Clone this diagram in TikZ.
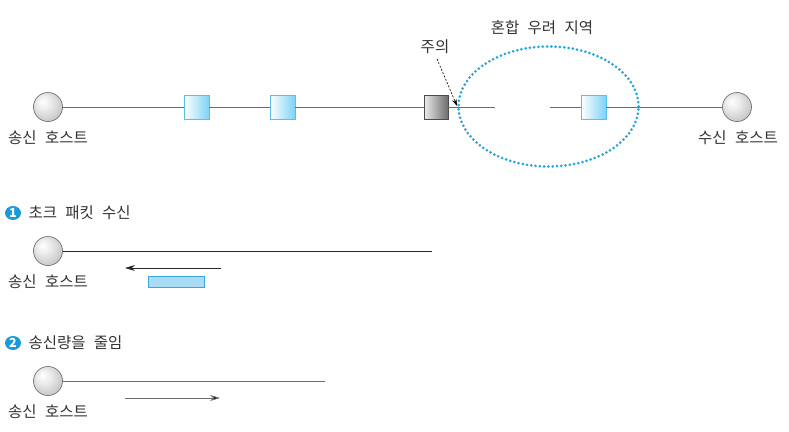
\documentclass[tikz,border=0pt]{standalone}
\usepackage{fontspec}
\setmainfont{Noto Sans CJK KR}[WordSpace=2.4]
\usetikzlibrary{arrows.meta,shapes.geometric}
\definecolor{txt}{HTML}{333333}
\definecolor{pktblue}{HTML}{7DD3F5}
\definecolor{pktborder}{HTML}{5BC0E8}
\definecolor{dotblue}{HTML}{2AA6DC}
\definecolor{bulletblue}{HTML}{1A9AD6}
\definecolor{chokefill}{HTML}{A8DBF5}
\definecolor{chokeborder}{HTML}{3AA7DE}
\pgfdeclareradialshading{myball}{\pgfpoint{-10bp}{10bp}}{color(0bp)=(white); color(12bp)=(gray!15); color(30bp)=(gray!45); color(50bp)=(gray!60)}
\begin{document}
\begin{tikzpicture}[x=1pt,y=-1pt,
  every node/.style={font=\fontsize{15.5}{18}\selectfont, text=txt},
  host/.style={circle, minimum size=29pt, inner sep=0pt, draw=gray!80!black, line width=0.6pt, shade, shading=myball},
  pkt/.style={rectangle, minimum width=25pt, minimum height=24pt, inner sep=0pt, draw=pktborder, line width=0.8pt, left color=white, right color=pktblue},
  darkpkt/.style={rectangle, minimum width=24pt, minimum height=24pt, inner sep=0pt, draw=gray!60!black, line width=0.6pt, left color=gray!15, right color=gray!85!black},
  wire/.style={draw=gray!85!black, line width=0.8pt},
  bwire/.style={draw=black!85, line width=0.9pt},
  bullet/.style={ellipse, fill=bulletblue, minimum width=16pt, minimum height=14pt, inner sep=0pt, text=white, font=\fontsize{12.5}{12}\selectfont\bfseries},
  title/.style={anchor=west},
  tiparrow/.style={-{Stealth[length=10pt,width=6pt]}},
]
\useasboundingbox (0,0) rectangle (789,431);

% ---------- top row ----------
\node[host] (s0) at (48,107) {};
\node[anchor=center] (s0l) at (48,138) {송신 호스트};
\node[pkt] (p1) at (196.5,107) {};
\node[pkt] (p2) at (282.5,107) {};
\node[darkpkt] (pd) at (436,107) {};
\coordinate (gapL) at (495,107);
\coordinate (gapR) at (550,107);
\node[pkt] (p3) at (593.5,107) {};
\node[host] (r0) at (737,107) {};
\node (r0l) at (738,138) {수신 호스트};

\draw[wire] (s0) -- (p1);
\draw[wire] (p1) -- (p2);
\draw[wire] (p2) -- (pd);
\draw[wire] (pd) -- (gapL);
\draw[wire] (gapR) -- (p3);
\draw[wire] (p3) -- (r0);

\node[ellipse, draw=dotblue, line width=3pt, line cap=round, dash pattern=on 0pt off 4.3pt, minimum width=180pt, minimum height=120pt, inner sep=0pt] (zone) at (548.5,106.5) {};
\node (zonel) at (542,28) {혼합 우려 지역};

\node (warn) at (435,47) {주의};
\coordinate (tip) at (457,106);
\draw[black, line width=0.6pt, dash pattern=on 2pt off 1.6pt, -{Stealth[length=7pt,width=4.5pt]}] (437,59) -- (tip);

% ---------- step 1 ----------
\node[bullet] (b1) at (13,213) {1};
\node[title] (t1) at (25,213) {초크 패킷 수신};
\node[host] (s1) at (48,251) {};
\node (s1l) at (48,282) {송신 호스트};
\coordinate (e1) at (432,251);
\draw[bwire] (s1) -- (e1);
\coordinate (a1s) at (221,268);
\coordinate (a1e) at (125,268);
\draw[bwire, line width=0.8pt, tiparrow] (a1s) -- (a1e);
\node[rectangle, minimum width=56pt, minimum height=11pt, inner sep=0pt, fill=chokefill, draw=chokeborder, line width=0.8pt] (choke) at (176,281.5) {};

% ---------- step 2 ----------
\node[bullet] (b2) at (13,343) {2};
\node[title] (t2) at (25,343) {송신량을 줄임};
\node[host] (s2) at (48,381) {};
\node (s2l) at (48,412) {송신 호스트};
\coordinate (e2) at (325,381);
\draw[wire] (s2) -- (e2);
\coordinate (a2s) at (125,398);
\coordinate (a2e) at (220,398);
\draw[wire, -{Stealth[length=10pt,width=6pt,fill=black]}] (a2s) -- (a2e);
\end{tikzpicture}
\end{document}
